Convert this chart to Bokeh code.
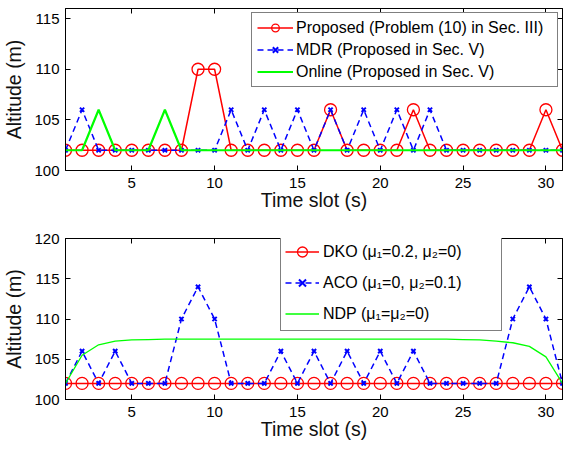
from bokeh.plotting import figure
from bokeh.layouts import column
from bokeh.models import LinearAxis, Legend, LegendItem, FixedTicker, Range1d
from bokeh.embed import file_html
from bokeh.resources import INLINE

# ---------------- data ----------------
slots = list(range(1, 32))

# top panel
proposed = [102, 102, 102, 102, 102, 102, 102, 102, 110, 110,
            102, 102, 102, 102, 102, 102, 106, 102, 102, 102,
            102, 106, 102, 102, 102, 102, 102, 102, 102, 106, 102]
mdr = [102, 106, 102, 102, 102, 102, 102, 102, 102, 102,
       106, 102, 106, 102, 106, 102, 106, 102, 106, 102,
       106, 102, 106, 102, 102, 102, 102, 102, 102, 102, 102]
online = [102, 102, 106, 102, 102, 102, 106, 102, 102, 102,
          102, 102, 102, 102, 102, 102, 102, 102, 102, 102,
          102, 102, 102, 102, 102, 102, 102, 102, 102, 102, 102]

# bottom panel
dko = [102, 102, 102, 102, 102, 102, 102, 102, 102, 102,
       102, 102, 102, 102, 102, 102, 102, 102, 102, 102,
       102, 102, 102, 102, 102, 102, 102, 102, 102, 102, 102]
aco = [102, 106, 102, 106, 102, 102, 102, 110, 114, 110,
       102, 102, 102, 106, 102, 106, 102, 106, 102, 106,
       102, 106, 102, 102, 102, 102, 102, 110, 114, 110, 102]
ndp = [102, 105.5, 106.8, 107.25, 107.4, 107.45, 107.5, 107.5, 107.5, 107.5,
       107.5, 107.5, 107.5, 107.5, 107.5, 107.5, 107.5, 107.5, 107.5, 107.5,
       107.5, 107.5, 107.5, 107.5, 107.45, 107.4, 107.25, 107.05, 106.6, 105.3, 102]

x_ticks = [5, 10, 15, 20, 25, 30]
top_y_ticks = [100, 105, 110, 115]
bot_y_ticks = [100, 105, 110, 115, 120]

top_labels = ["Proposed (Problem (10) in Sec. III)",
              "MDR (Proposed in Sec. V)",
              "Online (Proposed in Sec. V)"]
bot_labels = ["DKO (μ\u2081=0.2, μ\u2082=0)",
              "ACO (μ\u2081=0, μ\u2082=0.1)",
              "NDP (μ\u2081=μ\u2082=0)"]

FONT = "Liberation Sans"
RED, BLUE, GREEN = "#ff0000", "#0000ff", "#00ff00"


def style_axis(ax, ticks, show_labels):
    ax.ticker = FixedTicker(ticks=ticks)
    ax.major_tick_in = 5
    ax.major_tick_out = 0
    ax.minor_tick_line_color = None
    ax.axis_line_color = "black"
    ax.major_tick_line_color = "black"
    ax.axis_line_width = 1
    ax.major_label_text_font = FONT
    if show_labels:
        ax.major_label_text_font_size = "15px"
        ax.major_label_text_color = "black"
    else:
        ax.major_label_text_font_size = "0px"
        ax.major_label_text_color = None
        ax.major_label_standoff = 0


def make_fig(height, ymax, yticks, top_border, bottom_border):
    p = figure(width=565, height=height, output_backend="svg", toolbar_location=None,
               x_range=Range1d(1, 31), y_range=Range1d(100, ymax),
               min_border_left=63, min_border_right=3,
               min_border_top=top_border, min_border_bottom=bottom_border)
    p.grid.visible = False
    p.outline_line_color = "black"
    p.outline_line_width = 1
    p.background_fill_color = "white"
    p.border_fill_color = "white"
    style_axis(p.xaxis[0], x_ticks, True)
    style_axis(p.yaxis[0], yticks, True)
    p.xaxis[0].major_label_standoff = 7
    p.yaxis[0].major_label_standoff = 6
    p.xaxis[0].axis_label = "Time slot (s)"
    p.yaxis[0].axis_label = "Altitude (m)"
    for ax in (p.xaxis[0], p.yaxis[0]):
        ax.axis_label_text_font = FONT
        ax.axis_label_text_font_size = "19.5px"
        ax.axis_label_text_font_style = "normal"
        ax.axis_label_text_color = "#111111"
    p.xaxis[0].axis_label_standoff = -2
    p.yaxis[0].axis_label_standoff = 6
    ra = LinearAxis()
    style_axis(ra, yticks, False)
    p.add_layout(ra, "right")
    ta = LinearAxis()
    style_axis(ta, x_ticks, False)
    p.add_layout(ta, "above")
    return p


# ---------------- top ----------------
p1 = make_fig(225, 116, top_y_ticks, 8, 55)
r1l = p1.line(slots, proposed, line_color=RED, line_width=1.5)
r1m = p1.scatter(slots, proposed, marker="circle", size=12, fill_color=None,
                 line_color=RED, line_width=1.3)
r2l = p1.line(slots, mdr, line_color=BLUE, line_width=1.5, line_dash="6 4")
r2m = p1.scatter(slots, mdr, marker="x", size=6, line_color=BLUE, line_width=2)
r3l = p1.line(slots, online, line_color=GREEN, line_width=2.2)

leg1 = Legend(items=[LegendItem(label=top_labels[0], renderers=[r1l, r1m]),
                     LegendItem(label=top_labels[1], renderers=[r2l, r2m]),
                     LegendItem(label=top_labels[2], renderers=[r3l])],
              location="top_right")
p1.add_layout(leg1, "center")

# ---------------- bottom ----------------
p2 = make_fig(224, 120, bot_y_ticks, 13, 50)
s1l = p2.line(slots, dko, line_color=RED, line_width=1.5)
s1m = p2.scatter(slots, dko, marker="circle", size=12, fill_color=None,
                 line_color=RED, line_width=1.3)
s2l = p2.line(slots, aco, line_color=BLUE, line_width=1.5, line_dash="6 4")
s2m = p2.scatter(slots, aco, marker="x", size=6, line_color=BLUE, line_width=2)
s3l = p2.line(slots, ndp, line_color=GREEN, line_width=1.3)

leg2 = Legend(items=[LegendItem(label=bot_labels[0], renderers=[s1l, s1m]),
                     LegendItem(label=bot_labels[1], renderers=[s2l, s2m]),
                     LegendItem(label=bot_labels[2], renderers=[s3l])],
              location=(215, 68))
p2.add_layout(leg2, "center")

for lg in (leg1, leg2):
    lg.border_line_color = "black"
    lg.border_line_width = 1.2
    lg.background_fill_color = "white"
    lg.background_fill_alpha = 1
    lg.label_text_font = FONT
    lg.label_text_font_size = "16px"
    lg.label_text_color = "black"
    lg.label_text_baseline = "middle"

leg1.margin = 4
leg1.padding = 5
leg1.glyph_width = 36
leg1.glyph_height = 19
leg1.label_height = 19
leg1.spacing = 3
leg1.label_standoff = 3
leg1.label_width = 256

leg2.margin = 0
leg2.padding = 4
leg2.glyph_width = 34
leg2.glyph_height = 25
leg2.label_height = 25
leg2.spacing = 6
leg2.label_standoff = 4
leg2.label_width = 174

layout = column(p1, p2, spacing=0)
open("out.html", "w").write(file_html(layout, INLINE))
